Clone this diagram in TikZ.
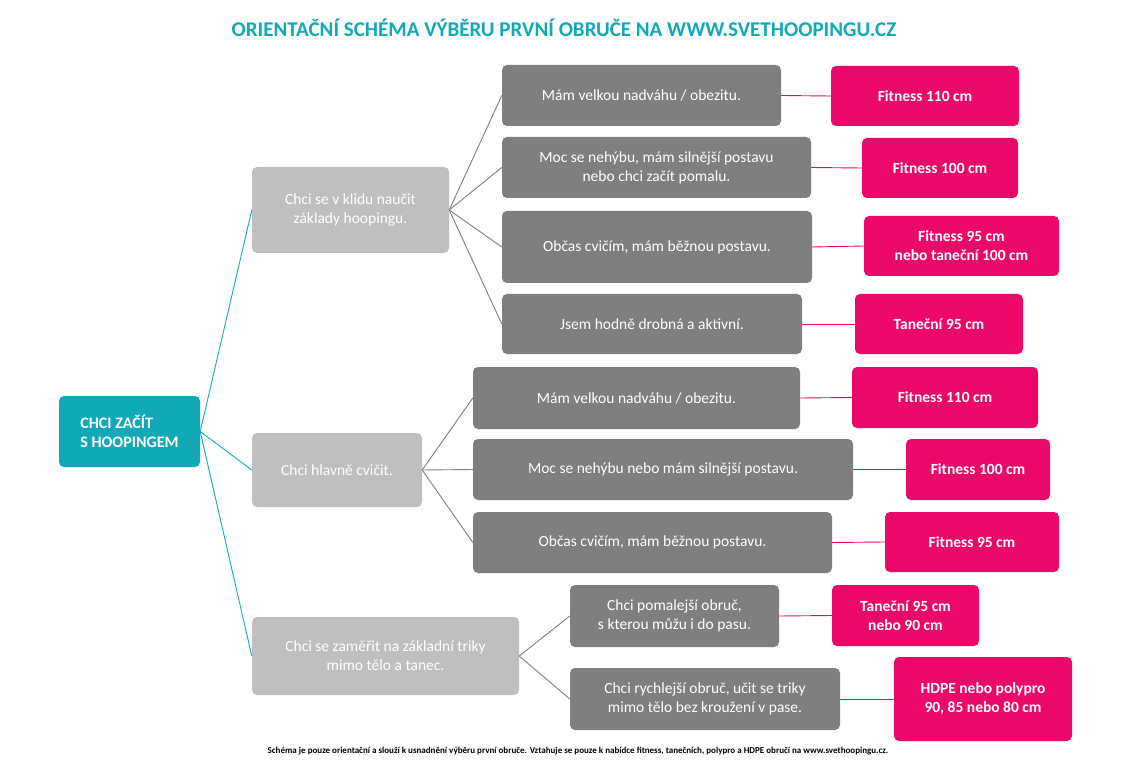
\documentclass[tikz,border=0pt]{standalone}
\usepackage{fontspec}
\setmainfont{Carlito}
\definecolor{teal}{HTML}{12A9B6}
\definecolor{lgray}{HTML}{BFBFBF}
\definecolor{dgray}{HTML}{7F7F7F}
\definecolor{pink}{HTML}{EC0868}
\begin{document}
\begin{tikzpicture}[x=1pt,y=-1pt,
 bx/.style={rounded corners=5pt,align=center,text=white,font=\fontsize{15.5}{19}\selectfont,inner sep=0pt},
 root/.style={bx,fill=teal,font=\fontsize{16}{19}\selectfont\bfseries,align=left},
 lone/.style={bx,fill=lgray},
 ltwo/.style={bx,fill=dgray},
 pk/.style={bx,fill=pink,font=\fontsize{15.5}{19}\selectfont\bfseries},
 cl/.style={teal,line width=0.9pt},
 gl/.style={dgray,line width=0.9pt},
 pl/.style={pink,line width=0.9pt}]
\useasboundingbox (0,0) rectangle (1128,770);
\fill[white] (0,0) rectangle (1128,770);
\newcommand\bx[7]{\node[#1,minimum width={#4-#2},minimum height={#5-#3}] (#6) at ({(#2+#4)/2},{(#3+#5)/2}) {#7};}
\node[text=teal,font=\fontsize{21}{24}\selectfont\bfseries] (title) at (564,28) {ORIENTAČNÍ SCHÉMA VÝBĚRU PRVNÍ OBRUČE NA WWW.SVETHOOPINGU.CZ};
\bx{root}{59}{396}{200}{467}{R}{CHCI ZAČÍT\\S HOOPINGEM}
\bx{lone}{252}{167}{449}{253}{A}{Chci se v klidu naučit\\základy hoopingu.}
\bx{lone}{252}{433}{422}{507}{B}{Chci hlavně cvičit.}
\bx{lone}{252}{617}{519}{695}{C}{Chci se zaměřit na základní triky\\mimo tělo a tanec.}
\bx{ltwo}{502}{65}{781}{126}{A1}{Mám velkou nadváhu / obezitu.}
\bx{ltwo}{502}{137}{811}{198}{A2}{Moc se nehýbu, mám silnější postavu\\nebo chci začít pomalu.}
\bx{ltwo}{502}{211}{812}{283}{A3}{Občas cvičím, mám běžnou postavu.}
\bx{ltwo}{502}{294}{802}{354}{A4}{Jsem hodně drobná a aktivní.}
\bx{ltwo}{473}{367}{800}{429}{B1}{Mám velkou nadváhu / obezitu.}
\bx{ltwo}{473}{439}{853}{500}{B2}{Moc se nehýbu nebo mám silnější postavu.}
\bx{ltwo}{473}{512}{832}{573}{B3}{Občas cvičím, mám běžnou postavu.}
\bx{ltwo}{570}{585}{779}{647}{C1}{Chci pomalejší obruč,\\s kterou můžu i do pasu.}
\bx{ltwo}{570}{668}{840}{730}{C2}{Chci rychlejší obruč, učit se triky\\mimo tělo bez kroužení v pase.}
\bx{pk}{831}{66}{1019}{126}{P1}{Fitness 110 cm}
\bx{pk}{862}{138}{1018}{198}{P2}{Fitness 100 cm}
\bx{pk}{864}{216}{1059}{276}{P3}{Fitness 95 cm\\nebo taneční 100 cm}
\bx{pk}{855}{294}{1023}{354}{P4}{Taneční 95 cm}
\bx{pk}{852}{367}{1038}{428}{P5}{Fitness 110 cm}
\bx{pk}{906}{439}{1050}{500}{P6}{Fitness 100 cm}
\bx{pk}{885}{512}{1059}{572}{P7}{Fitness 95 cm}
\bx{pk}{832}{585}{979}{646}{P8}{Taneční 95 cm\\nebo 90 cm}
\bx{pk}{894}{657}{1072}{741}{P9}{HDPE nebo polypro\\90, 85 nebo 80 cm}
\foreach \t in {A,B,C} \draw[cl] (R.east) -- (\t.west);
\foreach \t in {A1,A2,A3,A4} \draw[gl] (A.east) -- (\t.west);
\foreach \t in {B1,B2,B3} \draw[gl] (B.east) -- (\t.west);
\foreach \t in {C1,C2} \draw[gl] (C.east) -- (\t.west);
\draw[pl] (A1.east) -- (P1.west); \draw[pl] (A2.east) -- (P2.west);
\draw[pl] (A3.east) -- (P3.west); \draw[pl] (A4.east) -- (P4.west);
\draw[pl] (B1.east) -- (P5.west); \draw[pl] (B2.east) -- (P6.west);
\draw[pl] (B3.east) -- (P7.west); \draw[pl] (C1.east) -- (P8.west);
\draw[pl] (C2.east) -- (P9.west);
\node[font=\fontsize{9}{11}\selectfont\bfseries] (foot) at (578,751) {Schéma je pouze orientační a slouží k usnadnění výběru první obruče. Vztahuje se pouze k nabídce fitness, tanečních, polypro a HDPE obručí na www.svethoopingu.cz.};
\end{tikzpicture}
\end{document}
